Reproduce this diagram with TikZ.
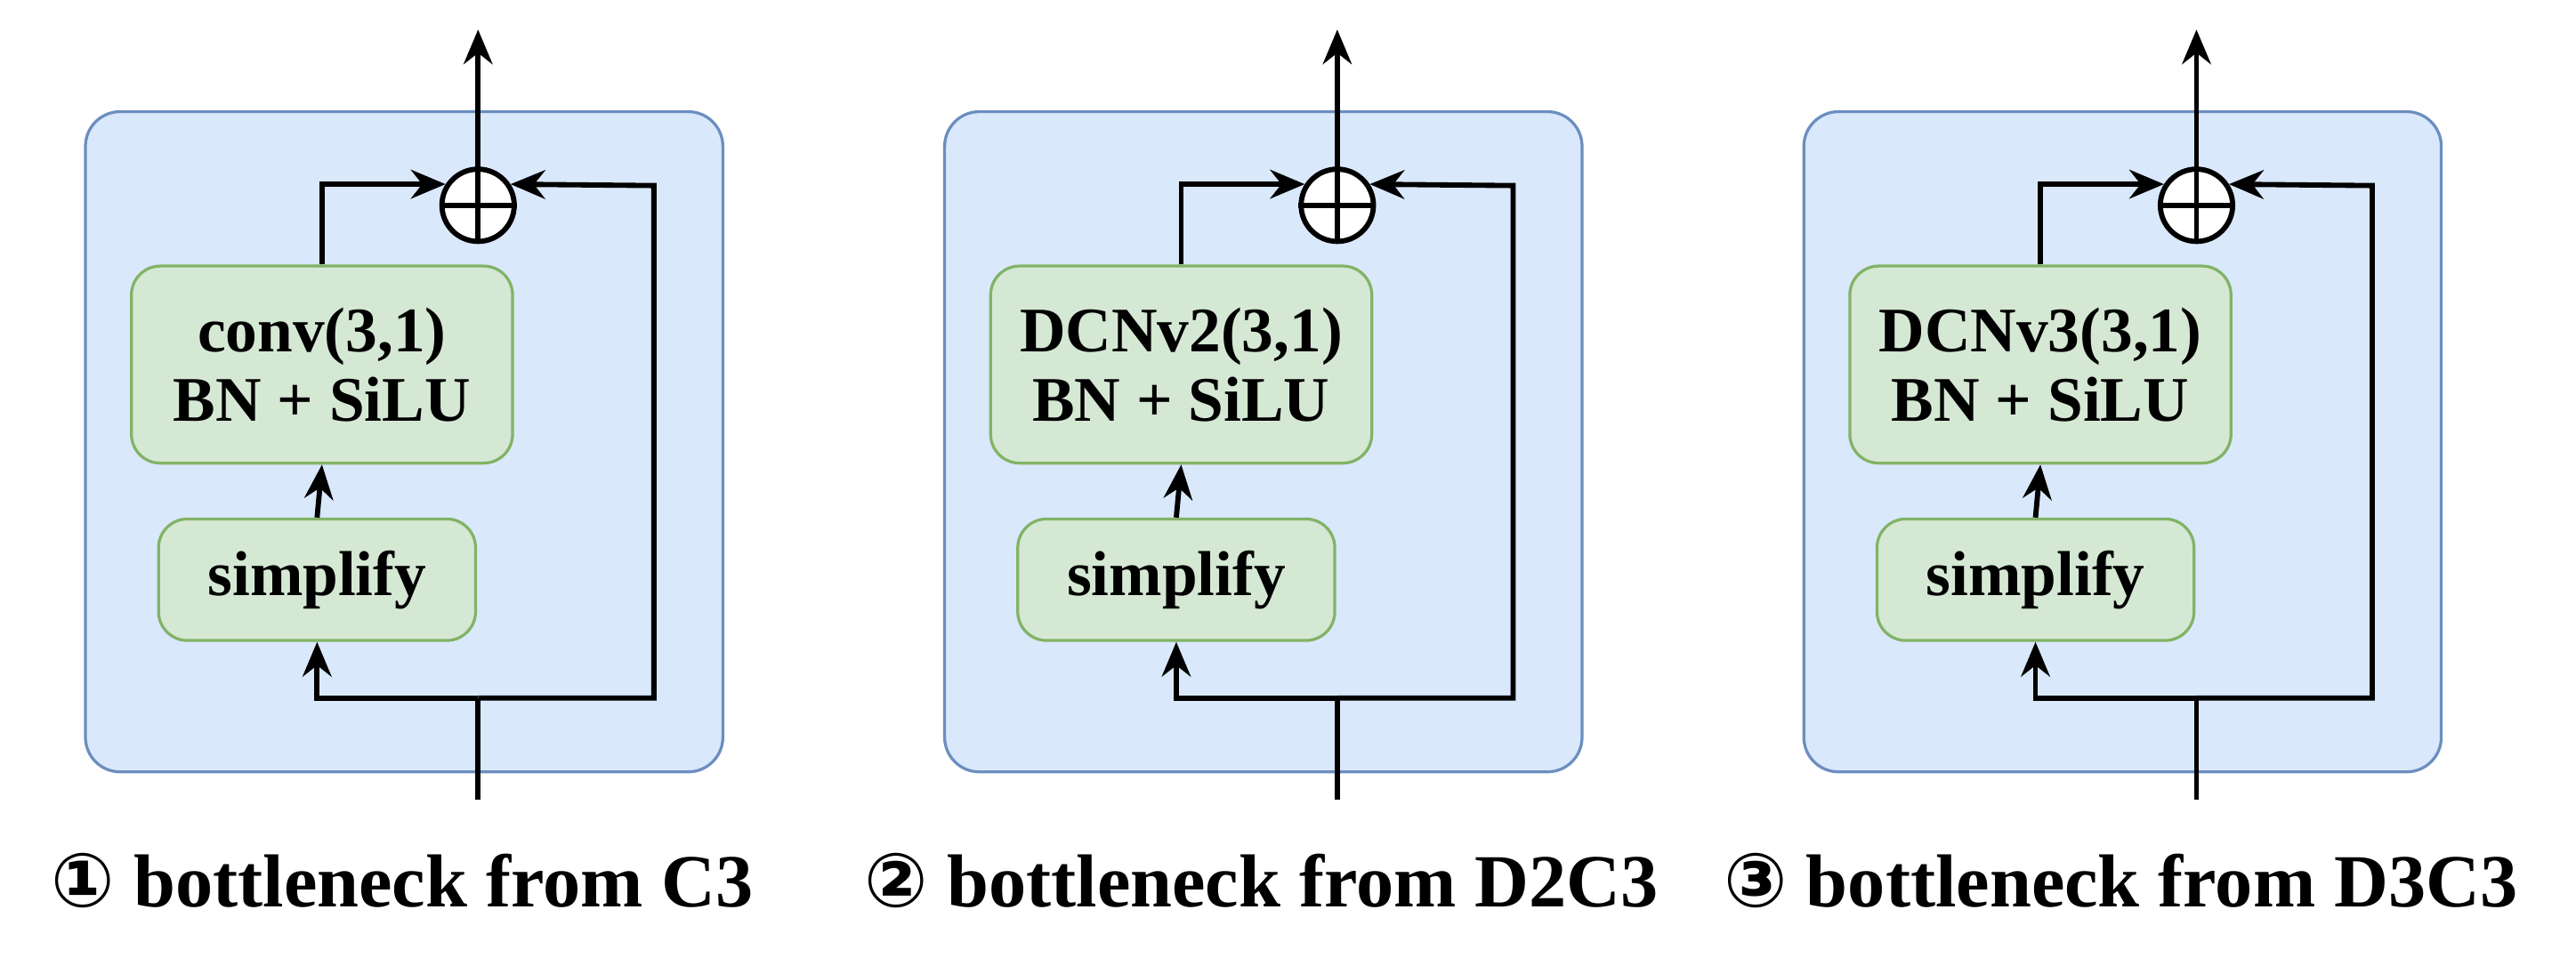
\documentclass[tikz,border=0pt]{standalone}
\usepackage{fontspec}
\setmainfont{Liberation Serif}
\newfontfamily\symfont{DejaVu Sans}
\usetikzlibrary{arrows.meta}
\definecolor{pblue}{HTML}{DAE8FC}\definecolor{bblue}{HTML}{6C8EBF}
\definecolor{pgreen}{HTML}{D5E8D4}\definecolor{bgreen}{HTML}{82B366}
\tikzset{panel/.style={fill=pblue,draw=bblue,line width=0.5pt,rounded corners=6pt},
 gbox/.style={fill=pgreen,draw=bgreen,line width=0.5pt,rounded corners=5pt,font=\bfseries\fontsize{11}{12}\selectfont,align=center,inner sep=0pt},
 conn/.style={line width=0.9pt,-{Stealth[length=6pt,width=5pt]}},
 line/.style={line width=0.9pt}}
\newcommand\mypanel[4]{%
 \begin{scope}[xshift=#2mm]
 \draw[panel] (52,68) rectangle (440,470);
 \node[gbox,minimum width=23.2mm,minimum height=12mm] (cv#1) at (196,222) {#3\\BN + SiLU};
 \node[gbox,minimum width=19.3mm,minimum height=7.4mm] (sp#1) at (193,353) {simplify};
 \node[circle,draw,line width=0.9pt,fill=white,minimum size=4.4mm,inner sep=0pt] (ad#1) at (291,125) {};
 \draw[line] (ad#1.north)--(ad#1.south) (ad#1.west)--(ad#1.east);
 \coordinate (in#1) at (291,487);
 \coordinate (out#1) at (291,18);
 \coordinate (j#1) at (291,425);
 \coordinate (r#1) at (398,113);
 \draw[conn] (ad#1.north)--(out#1);
 \draw[line] (in#1)--(j#1);
 \draw[conn] (j#1)-|(sp#1.south);
 \draw[conn] (j#1)-|(r#1)--(ad#1.33);
 \draw[conn] (sp#1.north)--(cv#1.south);
 \draw[conn] (cv#1.north)|-(ad#1.147);
 \node[font=\bfseries\fontsize{13}{15}\selectfont,anchor=base] (lb#1) at (245,552) {#4};
 \end{scope}}
\begin{document}
\begin{tikzpicture}[x=0.1mm,y=-0.1mm]
\useasboundingbox (0,0) rectangle (1568,583);
\mypanel{1}{0}{conv(3,1)}{{\symfont ①} bottleneck from C3}
\mypanel{2}{52.3}{DCNv2(3,1)}{{\symfont ②} bottleneck from D2C3}
\mypanel{3}{104.6}{DCNv3(3,1)}{{\symfont ③} bottleneck from D3C3}
\end{tikzpicture}
\end{document}
